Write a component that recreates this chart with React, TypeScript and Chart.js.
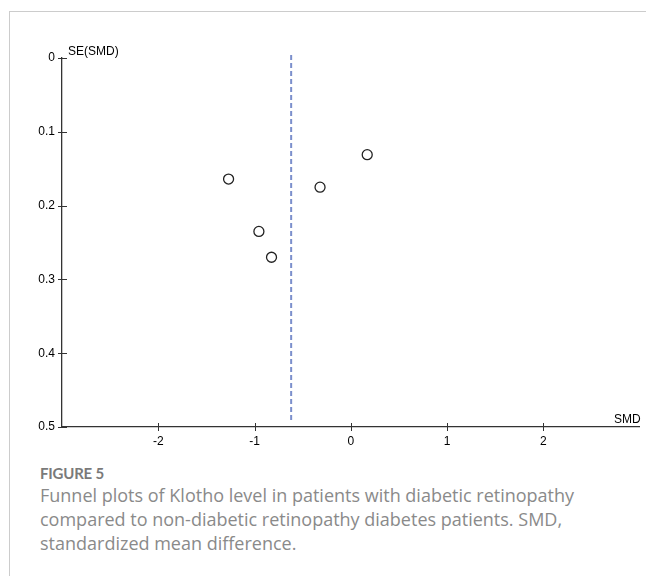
import React, { useEffect, useRef } from "react";
import { Chart, registerables } from "chart.js";

Chart.register(...registerables);

const smd = [-1.27, -0.955, -0.824, -0.32, 0.17];
const seSmd = [0.164, 0.235, 0.27, 0.175, 0.131];
const pooledSmd = -0.62;
const xTicks = [-2, -1, 0, 1, 2];
const yTicks = [0, 0.1, 0.2, 0.3, 0.4, 0.5];
const xTitle = "SMD";
const yTitle = "SE(SMD)";
const figureLabel = "FIGURE 5";
const caption =
  "Funnel plots of Klotho level in patients with diabetic retinopathy compared to non-diabetic retinopathy diabetes patients. SMD, standardized mean difference.";

const crossTicks = {
  id: "crossTicks",
  afterDraw(chart: any) {
    const { ctx, scales, chartArea } = chart;
    const xs = scales.x;
    const ys = scales.y;
    ctx.save();
    ctx.strokeStyle = "#333";
    ctx.lineWidth = 1;
    ctx.beginPath();
    xTicks.forEach((v) => {
      const px = Math.round(xs.getPixelForValue(v)) + 0.5;
      ctx.moveTo(px, chartArea.bottom - 4);
      ctx.lineTo(px, chartArea.bottom + 4);
    });
    yTicks.forEach((v) => {
      const py = Math.round(ys.getPixelForValue(v)) + 0.5;
      ctx.moveTo(chartArea.left - 4, py);
      ctx.lineTo(chartArea.left + 5, py);
    });
    ctx.stroke();
    ctx.fillStyle = "#000";
    ctx.font = "12px 'Liberation Sans', Arial, sans-serif";
    ctx.textBaseline = "alphabetic";
    ctx.textAlign = "left";
    ctx.fillText(yTitle, chartArea.left + 6, chartArea.top - 3);
    ctx.textAlign = "right";
    ctx.fillText(xTitle, chartArea.right + 1, chartArea.bottom - 4);
    ctx.restore();
  },
};

function App() {
  const ref = useRef<HTMLCanvasElement>(null);
  useEffect(() => {
    document.body.style.margin = "0";
    const chart = new Chart(ref.current as HTMLCanvasElement, {
      type: "scatter",
      data: {
        datasets: [
          {
            type: "line",
            data: [
              { x: pooledSmd, y: yTicks[0] - 0.004 },
              { x: pooledSmd, y: yTicks[yTicks.length - 1] - 0.006 },
            ],
            borderColor: "#7b8fcc",
            borderWidth: 2,
            borderDash: [5, 3],
            pointRadius: 0,
            fill: false,
            clip: false,
          } as any,
          {
            data: smd.map((x, i) => ({ x, y: seSmd[i] })),
            pointRadius: 5,
            pointBorderWidth: 1.3,
            pointBorderColor: "#222",
            pointBackgroundColor: "rgba(255,255,255,1)",
            showLine: false,
          },
        ],
      },
      options: {
        animation: false,
        responsive: false,
        events: [],
        layout: { padding: { left: 0, top: 58, right: 2, bottom: 0 } },
        plugins: { legend: { display: false }, tooltip: { enabled: false } },
        scales: {
          x: {
            type: "linear",
            min: -3,
            max: 3,
            afterBuildTicks: (s: any) => {
              s.ticks = xTicks.map((v) => ({ value: v }));
            },
            afterFit: (s: any) => {
              s.height = 33;
            },
            grid: { display: false, drawTicks: false, tickLength: 0 },
            border: { display: true, color: "#333", width: 1.3 },
            ticks: {
              color: "#000",
              padding: 7,
              maxRotation: 0,
              font: { family: "'Liberation Sans', Arial, sans-serif", size: 12 },
              callback: (v: any) => String(v),
            },
          },
          y: {
            type: "linear",
            min: 0,
            max: 0.5,
            reverse: true,
            afterBuildTicks: (s: any) => {
              s.ticks = yTicks.map((v) => ({ value: v }));
            },
            afterFit: (s: any) => {
              s.width = 62;
            },
            grid: { display: false, drawTicks: false, tickLength: 0 },
            border: { display: true, color: "#333", width: 1.3 },
            ticks: {
              color: "#000",
              padding: 7,
              font: { family: "'Liberation Sans', Arial, sans-serif", size: 12 },
              callback: (v: any) => String(Math.round(v * 10) / 10),
            },
          },
        },
      },
      plugins: [crossTicks],
    });
    return () => chart.destroy();
  }, []);

  return (
    <div style={{ position: "relative", width: 646, height: 576, overflow: "hidden", background: "#fff" }}>
      <div
        style={{
          position: "absolute",
          left: 9,
          top: 11,
          width: 640,
          height: 580,
          borderTop: "1.5px solid #cccccc",
          borderLeft: "1.5px solid #cccccc",
        }}
      />
      <canvas
        ref={ref}
        width={646}
        height={460}
        style={{ position: "absolute", left: 0, top: 0, width: 646, height: 460 }}
      />
      <div
        style={{
          position: "absolute",
          left: 40,
          top: 464,
          fontFamily: "Lato, 'Open Sans', sans-serif",
          fontWeight: 700,
          fontSize: 15,
          lineHeight: "18px",
          color: "#7a7a7a",
          letterSpacing: -0.2,
        }}
      >
        {figureLabel}
      </div>
      <div
        style={{
          position: "absolute",
          left: 40,
          top: 483,
          width: 590,
          fontFamily: "'Open Sans', Lato, sans-serif",
          fontSize: 18,
          lineHeight: "24px",
          color: "#8a8a8a",
        }}
      >
        {caption}
      </div>
    </div>
  );
}

export default App;
